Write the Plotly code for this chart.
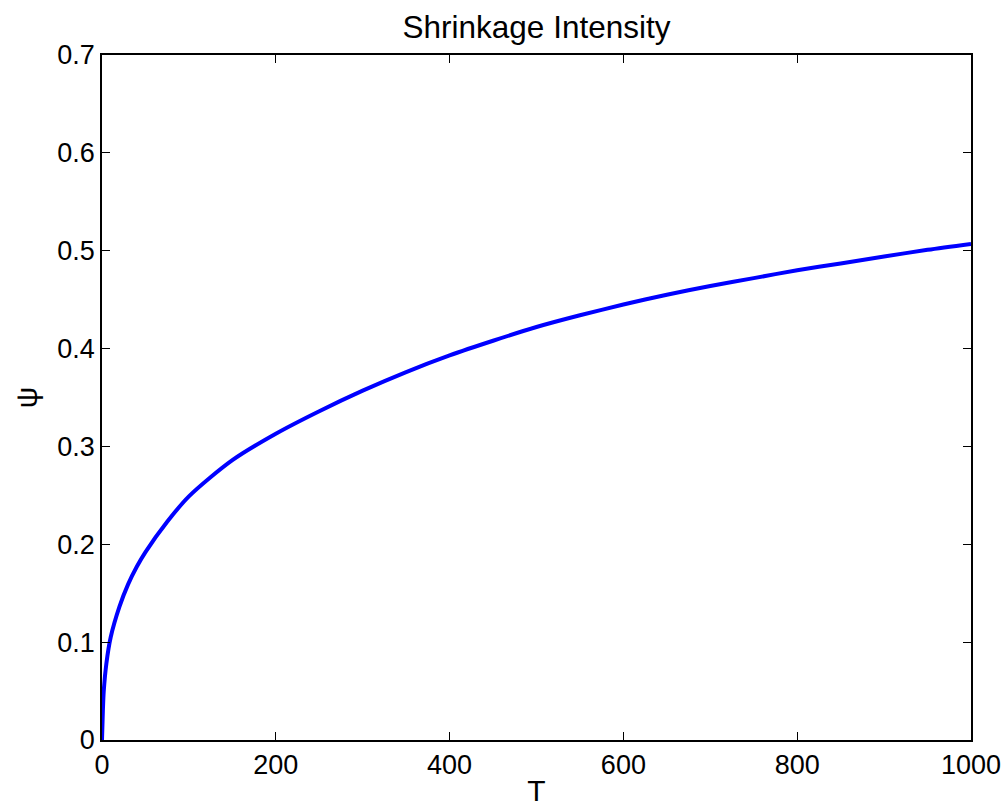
import plotly.graph_objects as go

T_values = [0, 1, 2, 5, 10, 20, 30, 40, 50, 75, 100, 150, 200, 250, 300, 350,
            400, 450, 500, 550, 600, 650, 700, 750, 800, 850, 900, 950, 1000]
psi_values = [0, 0.030, 0.050, 0.078, 0.105, 0.136, 0.159, 0.177, 0.192, 0.223,
              0.249, 0.286, 0.313, 0.336, 0.357, 0.376, 0.393, 0.408, 0.422,
              0.434, 0.445, 0.455, 0.464, 0.472, 0.480, 0.487, 0.494, 0.501, 0.507]
x_ticks = [0, 200, 400, 600, 800, 1000]
y_ticks = [0, 0.1, 0.2, 0.3, 0.4, 0.5, 0.6, 0.7]
y_tick_labels = ["0", "0.1", "0.2", "0.3", "0.4", "0.5", "0.6", "0.7"]

FONT = "Liberation Sans, Arial, Helvetica, sans-serif"

fig = go.Figure()
fig.add_trace(go.Scatter(
    x=T_values, y=psi_values, mode="lines",
    line=dict(color="#0000FF", width=4, shape="spline", smoothing=0.8),
    showlegend=False, hoverinfo="skip"))

axis_common = dict(
    showline=True, linecolor="black", linewidth=1.5, mirror="ticks",
    ticks="inside", ticklen=8, tickwidth=1, tickcolor="black",
    showgrid=False, zeroline=False, automargin=False,
    tickfont=dict(family=FONT, size=27, color="black"),
)

fig.update_layout(
    width=1004, height=807,
    margin=dict(l=102, r=33, t=55, b=67),
    paper_bgcolor="white", plot_bgcolor="white",
    title=dict(text="Shrinkage Intensity", x=(102 + 971) / 2 / 1004, xanchor="center",
               y=1 - 27 / 807, yanchor="middle", yref="container",
               font=dict(family=FONT, size=31.5, color="black")),
    xaxis=dict(range=[0, 1000], tickvals=x_ticks, ticktext=[str(v) for v in x_ticks],
               title=dict(text="T", standoff=10, font=dict(family=FONT, size=30, color="black")),
               **axis_common),
    yaxis=dict(range=[0, 0.7], tickvals=y_ticks, ticktext=y_tick_labels,
               title=dict(text="ψ", standoff=11, font=dict(family=FONT, size=30, color="black")),
               **axis_common),
)

fig.write_html("out.html",
               config={"displayModeBar": False},
               post_script="document.body.style.margin='0';document.body.style.overflow='hidden';")
